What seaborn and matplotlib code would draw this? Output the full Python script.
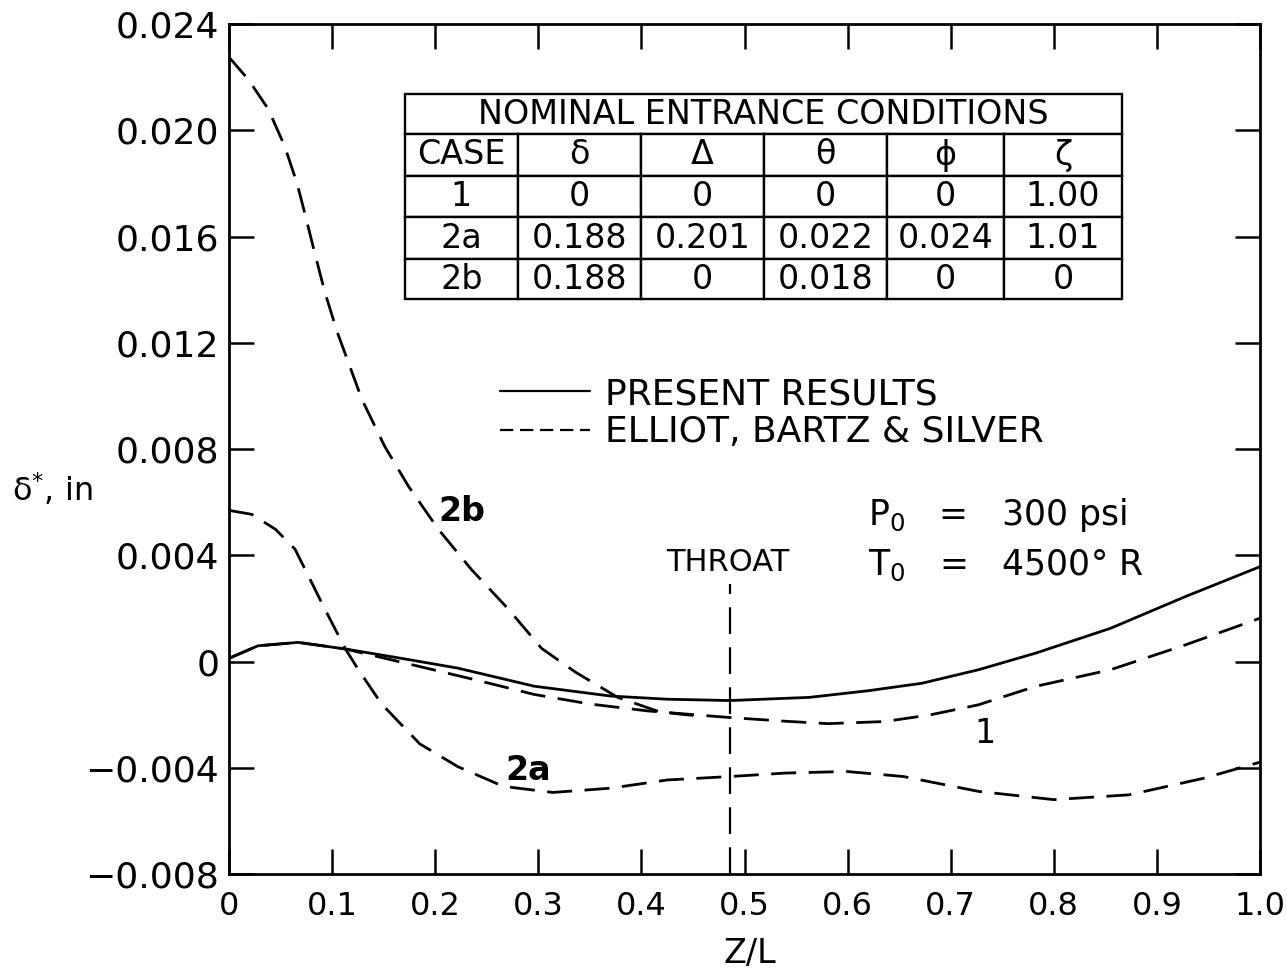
import matplotlib
matplotlib.use("Agg")
import matplotlib.pyplot as plt
from matplotlib.patches import Rectangle
from matplotlib.lines import Line2D
import seaborn as sns

# ---- data: displacement thickness along the nozzle ----
z_case1 = [0.0, 0.028, 0.067, 0.113, 0.17, 0.222, 0.296, 0.37, 0.425, 0.486,
           0.563, 0.62, 0.672, 0.727, 0.782, 0.855, 0.928, 1.0]
d_case1 = [0.00012, 0.00059, 0.00072, 0.00047, 0.0001, -0.00025, -0.00093, -0.0013,
           -0.00142, -0.00147, -0.00135, -0.0011, -0.00082, -0.00031, 0.00031,
           0.00125, 0.00245, 0.00357]

z_ebs1 = [0.0, 0.028, 0.067, 0.113, 0.185, 0.24, 0.296, 0.35, 0.406, 0.45, 0.486,
          0.54, 0.581, 0.636, 0.68, 0.727, 0.782, 0.855, 0.928, 1.0]
d_ebs1 = [0.00012, 0.00059, 0.00072, 0.00047, -0.00019, -0.0007, -0.00124, -0.0016,
          -0.00186, -0.002, -0.00211, -0.00225, -0.00234, -0.00226, -0.00201,
          -0.00163, -0.00094, -0.00031, 0.00063, 0.00163]

z_ebs2a = [0.0, 0.022, 0.045, 0.064, 0.077, 0.093, 0.113, 0.125, 0.148, 0.185,
           0.222, 0.266, 0.314, 0.37, 0.425, 0.486, 0.54, 0.599, 0.654, 0.727,
           0.8, 0.873, 0.946, 1.0]
d_ebs2a = [0.00569, 0.00554, 0.00498, 0.00423, 0.00322, 0.00197, 0.00047, -0.00028,
           -0.0016, -0.0031, -0.00396, -0.0047, -0.00493, -0.00477, -0.00446,
           -0.00433, -0.0042, -0.00414, -0.00433, -0.00489, -0.0052, -0.00502,
           -0.00439, -0.00379]

z_ebs2b = [0.0, 0.019, 0.038, 0.054, 0.066, 0.074, 0.083, 0.093, 0.105, 0.129,
           0.151, 0.174, 0.203, 0.235, 0.271, 0.303, 0.336, 0.377, 0.418, 0.45]
d_ebs2b = [0.02275, 0.0219, 0.0208, 0.0194, 0.0180, 0.0168, 0.0154, 0.0139, 0.0124,
           0.00986, 0.0081, 0.0066, 0.00498, 0.00347, 0.00197, 0.0005, -0.0004,
           -0.00135, -0.0019, -0.00203]

throat_z = 0.486

x_ticks = [0.0, 0.1, 0.2, 0.3, 0.4, 0.5, 0.6, 0.7, 0.8, 0.9, 1.0]
x_labels = ["0", "0.1", "0.2", "0.3", "0.4", "0.5", "0.6", "0.7", "0.8", "0.9", "1.0"]
y_ticks = [-0.008, -0.004, 0.0, 0.004, 0.008, 0.012, 0.016, 0.020, 0.024]
y_labels = ["\u22120.008", "\u22120.004", "0", "0.004", "0.008", "0.012", "0.016",
            "0.020", "0.024"]

table_title = "NOMINAL ENTRANCE CONDITIONS"
table_header = ["CASE", "\u03b4", "\u0394", "\u03b8", "\u03d5", "\u03b6"]
table_rows = [["1", "0", "0", "0", "0", "1.00"],
              ["2a", "0.188", "0.201", "0.022", "0.024", "1.01"],
              ["2b", "0.188", "0", "0.018", "0", "0"]]

# ---- figure ----
sns.set_style("ticks")
plt.rcParams["font.family"] = ["DejaVu Sans"]
plt.rcParams["mathtext.fontset"] = "dejavusans"
plt.rcParams["text.color"] = "black"
plt.rcParams["axes.labelcolor"] = "black"
plt.rcParams["lines.solid_joinstyle"] = "round"
plt.rcParams["lines.dash_joinstyle"] = "round"

W, H = 1287, 969
fig = plt.figure(figsize=(W / 100, H / 100), dpi=100)
L, R, T, B = 229, 1260, 24, 874
ax = fig.add_axes([L / W, 1 - B / H, (R - L) / W, (B - T) / H])


def px(x, y):
    """Figure pixel position -> axes fraction."""
    return (x - L) / (R - L), (B - y) / (B - T)


lw = 2.0
dash = (0, (9, 4.5))
sns.lineplot(x=z_case1, y=d_case1, ax=ax, color="black", lw=lw, sort=False)
sns.lineplot(x=z_ebs1, y=d_ebs1, ax=ax, color="black", lw=lw, sort=False, linestyle=dash)
sns.lineplot(x=z_ebs2a, y=d_ebs2a, ax=ax, color="black", lw=lw, sort=False, linestyle=dash)
sns.lineplot(x=z_ebs2b, y=d_ebs2b, ax=ax, color="black", lw=lw, sort=False, linestyle=dash)

# throat marker
ax.plot([throat_z, throat_z], [-0.008, 0.0029], color="black", lw=1.6,
        linestyle=(0, (12, 6)))
ax.text(0.484, 0.00374, "THROAT", ha="center", va="center", fontsize=22)

ax.set_xlim(0, 1.0)
ax.set_ylim(-0.008, 0.024)
ax.set_xticks(x_ticks)
ax.set_xticklabels(x_labels)
ax.set_yticks(y_ticks)
ax.set_yticklabels(y_labels)
ax.tick_params(axis="both", direction="in", length=18, width=1.8,
               top=True, right=True, colors="black")
ax.tick_params(axis="y", labelsize=26, pad=7)
ax.tick_params(axis="x", labelsize=23, pad=12)
for s in ax.spines.values():
    s.set_linewidth(2.0)
    s.set_color("black")

ax.set_xlabel("Z/L", fontsize=24)
ax.xaxis.set_label_coords(0.505, -0.074)
ax.set_ylabel(r"$\mathrm{\delta}^{*}$, in", fontsize=23, rotation=0, ha="center",
              va="center")
ax.yaxis.set_label_coords(-0.171, 0.452)

# curve labels
ax.text(0.226, 0.00565, "2b", fontsize=24, fontweight="bold", ha="center", va="center")
ax.text(0.290, -0.00411, "2a", fontsize=24, fontweight="bold", ha="center", va="center")
ax.text(0.733, -0.00272, "1", fontsize=24, ha="center", va="center")

# legend
handles = [Line2D([], [], color="black", lw=1.6),
           Line2D([], [], color="black", lw=1.6, linestyle=(0, (6, 3)))]
ax.legend(handles, ["PRESENT RESULTS", "ELLIOT, BARTZ & SILVER"],
          loc="upper left", bbox_to_anchor=px(500, 377), frameon=False,
          fontsize=26, handlelength=2.5, handletextpad=0.4,
          labelspacing=0.12, borderpad=0, borderaxespad=0)

# stagnation conditions
ax.text(*px(868, 515), "P$_0$   =   300 psi", fontsize=25, ha="left", va="center",
        transform=ax.transAxes)
ax.text(*px(868, 565), "T$_0$   =   4500\u00b0 R", fontsize=25, ha="left", va="center",
        transform=ax.transAxes)

# table of entrance conditions
col_px = [405, 518, 641, 764, 887, 1004, 1122]
row_px = [94, 134, 176, 217, 259, 299]
tab_lw = 1.7


def cell(x0, y0, x1, y1, text, size):
    ax0, ay1 = px(x0, y0)
    ax1_, ay0 = px(x1, y1)
    ax.add_patch(Rectangle((ax0, ay0), ax1_ - ax0, ay1 - ay0, transform=ax.transAxes,
                           fill=True, facecolor="white", edgecolor="black",
                           lw=tab_lw, zorder=4))
    ax.text((ax0 + ax1_) / 2, (ay0 + ay1) / 2, text, transform=ax.transAxes,
            ha="center", va="center", fontsize=size, zorder=5)


cell(col_px[0], row_px[0], col_px[-1], row_px[1], table_title, 24)
for j, h in enumerate(table_header):
    cell(col_px[j], row_px[1], col_px[j + 1], row_px[2], h, 24)
for i, row in enumerate(table_rows):
    for j, v in enumerate(row):
        cell(col_px[j], row_px[i + 2], col_px[j + 1], row_px[i + 3], v, 24)

fig.savefig("out.png", dpi=100, facecolor="white")
